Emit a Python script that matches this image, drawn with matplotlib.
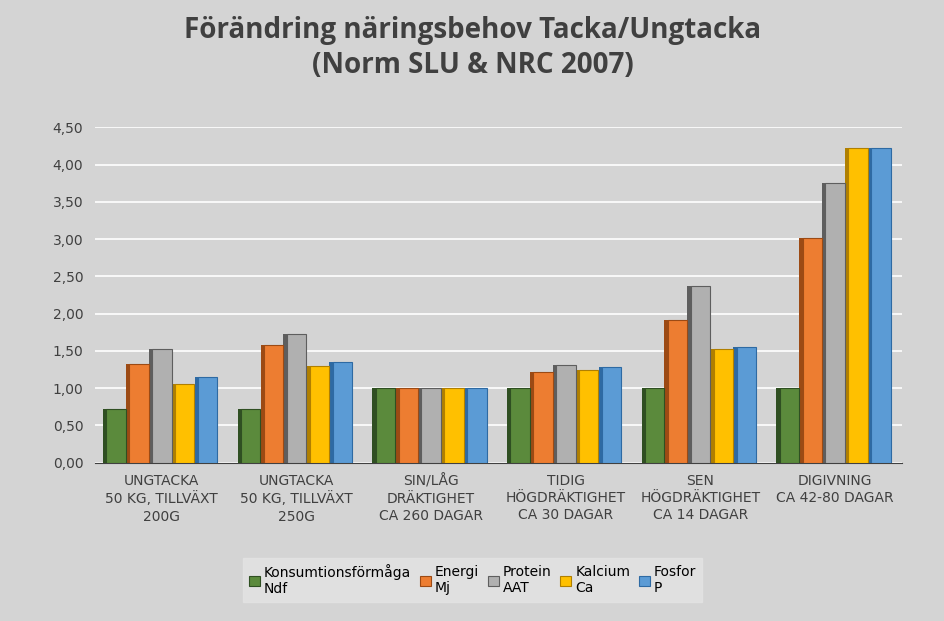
import matplotlib
matplotlib.use("Agg")
import matplotlib.pyplot as plt
import numpy as np

categories = ["UNGTACKA\n50 KG, TILLVÄXT\n200G", "UNGTACKA\n50 KG, TILLVÄXT\n250G",
              "SIN/LÅG\nDRÄKTIGHET\nCA 260 DAGAR", "TIDIG\nHÖGDRÄKTIGHET\nCA 30 DAGAR",
              "SEN\nHÖGDRÄKTIGHET\nCA 14 DAGAR", "DIGIVNING\nCA 42-80 DAGAR"]
series_names = ["Konsumtionsförmåga\nNdf", "Energi\nMj", "Protein\nAAT", "Kalcium\nCa", "Fosfor\nP"]
ndf = [0.72, 0.72, 1.0, 1.0, 1.0, 1.0]
energi = [1.33, 1.58, 1.0, 1.21, 1.92, 3.02]
protein = [1.52, 1.73, 1.0, 1.31, 2.37, 3.75]
kalcium = [1.05, 1.30, 1.0, 1.24, 1.53, 4.22]
fosfor = [1.15, 1.35, 1.0, 1.28, 1.55, 4.22]
yticks = [0, 0.5, 1, 1.5, 2, 2.5, 3, 3.5, 4, 4.5]

colors = ["#5b8a3c", "#ed7d31", "#b0b0b0", "#ffc000", "#5b9bd5"]
sides = ["#2f4f22", "#9c4a14", "#5e5e5e", "#b07f00", "#2e6aa3"]
bg = "#d4d4d4"

fig = plt.figure(figsize=(9.45, 6.21), dpi=100, facecolor=bg)
ax = fig.add_axes([0.10, 0.255, 0.855, 0.54], facecolor=bg)
data = [ndf, energi, protein, kalcium, fosfor]
x = np.arange(len(categories))
w = 0.17
for i, (vals, c, s) in enumerate(zip(data, colors, sides)):
    xs = x + (i - 2) * w
    ax.bar(xs - 0.025, vals, w * 0.85, color=s, zorder=2)
    ax.bar(xs, vals, w * 0.85, color=c, edgecolor=s, linewidth=0.8,
           label=series_names[i], zorder=3)
ax.set_ylim(0, 4.5)
ax.set_xlim(-0.5, 5.5)
ax.set_yticks(yticks)
ax.set_yticklabels([f"{t:.2f}".replace(".", ",") for t in yticks], fontsize=10, color="#404040")
ax.set_xticks(x)
ax.set_xticklabels(categories, fontsize=10, color="#404040", linespacing=1.3)
ax.yaxis.grid(True, color="white", linewidth=1.2, zorder=0)
ax.set_axisbelow(True)
for sp in ["top", "right", "left"]:
    ax.spines[sp].set_visible(False)
ax.spines["bottom"].set_color("#404040")
ax.tick_params(length=0, pad=8)
fig.suptitle("Förändring näringsbehov Tacka/Ungtacka\n(Norm SLU & NRC 2007)", y=0.975,
             fontsize=20, fontweight="bold", color="#404040", fontfamily="Open Sans", linespacing=1.3)
leg = fig.legend(loc="lower center", bbox_to_anchor=(0.5, 0.02), ncol=5, fontsize=10,
                 frameon=True, fancybox=False, handlelength=0.8, columnspacing=0.6, handletextpad=0.3)
leg.get_frame().set_facecolor("#e4e4e4")
leg.get_frame().set_edgecolor("#e4e4e4")
fig.savefig("out.png", dpi=100, facecolor=bg)
